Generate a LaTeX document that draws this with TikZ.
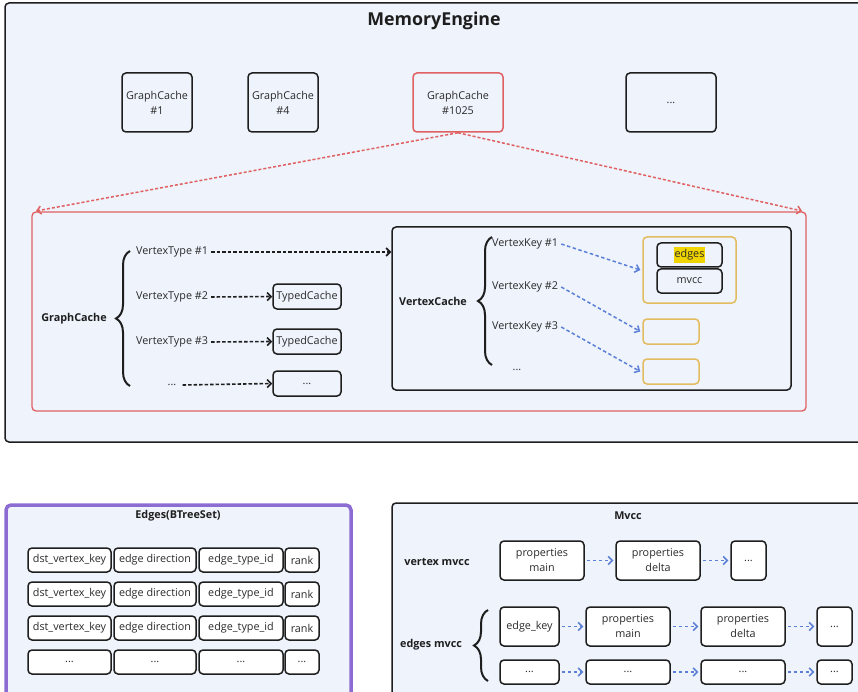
\documentclass[tikz,border=0pt]{standalone}
\usepackage{fontspec}
\setmainfont{Open Sans}
\usetikzlibrary{arrows.meta,decorations.pathreplacing,calc}
\definecolor{bg}{HTML}{EEF3FC}
\definecolor{ink}{HTML}{1E1E1E}
\definecolor{txt}{HTML}{2A2A2A}
\definecolor{redc}{HTML}{E06161}
\definecolor{yel}{HTML}{E2BC5E}
\definecolor{purp}{HTML}{8C6CD2}
\definecolor{bluea}{HTML}{5B80D6}
\definecolor{hl}{HTML}{F0D400}
\begin{document}
\begin{tikzpicture}[x=1pt,y=-1pt,
  every node/.style={text=txt,font=\fontsize{10.8}{15}\selectfont,inner sep=0pt},
  box/.style={draw=ink,line width=1.5pt,rounded corners=4pt,align=center},
  wbox/.style={box,fill=white},
  ybox/.style={draw=yel,line width=1.5pt,rounded corners=4pt},
  lbl/.style={font=\fontsize{10.8}{12}\selectfont\bfseries,text=ink},
  blkarrow/.style={draw=ink,line width=1.6pt,dash pattern=on 3.5pt off 2pt,-{Straight Barb[length=4pt,width=8pt]}},
  bluearrow/.style={draw=bluea,line width=1.5pt,dash pattern=on 3.5pt off 2.5pt,-{Straight Barb[length=4pt,width=8pt]}},
  redarrow/.style={draw=redc,line width=1.5pt,dash pattern=on 3pt off 2pt,-{Straight Barb[length=4pt,width=8pt]}},
  bracestyle/.style={draw=ink,line width=2pt,decorate,decoration={brace,amplitude=14pt}}
]
\useasboundingbox (0,0) rectangle (858,692);
\begin{scope}
\clip (0,0) rectangle (858,692);
\fill[white] (0,0) rectangle (858,692);
% Memory engine frame
\draw[draw=ink,line width=1.5pt,fill=bg,rounded corners=4pt] (5,3) rectangle (875,442);
\node[font=\fontsize{17.8}{20}\selectfont\bfseries,text=ink] (title) at (434,21) {MemoryEngine};
\node[box,minimum width=70pt,minimum height=59pt] (gc1) at (157,102.5) {GraphCache\\\#1};
\node[box,minimum width=70pt,minimum height=59pt] (gc4) at (283,102.5) {GraphCache\\\#4};
\node[box,draw=redc,minimum width=90pt,minimum height=59pt] (gc1025) at (458,102.5) {GraphCache\\\#1025};
\node[box,minimum width=90pt,minimum height=59pt] (gcdots) at (671,102.5) {...};
% red frame
\draw[draw=redc,line width=1.3pt,rounded corners=4pt] (32,212) rectangle (806,411);
\coordinate (rl) at (36,211);
\coordinate (rr) at (802,211);
\draw[redarrow] (gc1025.south) -- (rl);
\draw[redarrow] (gc1025.south) -- (rr);
% GraphCache contents
\node[lbl] (gclbl) at (74,319) {GraphCache};
\draw[bracestyle] (130,386) -- (130,251);
\node[anchor=west] (vt1) at (136,252) {VertexType \#1};
\node[anchor=west] (vt2) at (136,297) {VertexType \#2};
\node[anchor=west] (vt3) at (136,342) {VertexType \#3};
\node (vtd) at (172,385) {...};
\node[box,minimum width=68pt,minimum height=25pt] (tc2) at (307,296.5) {TypedCache};
\node[box,minimum width=68pt,minimum height=25pt] (tc3) at (307,341.5) {TypedCache};
\node[box,minimum width=68pt,minimum height=25pt] (tcd) at (307,383.5) {...};
% VertexCache
\node[box,minimum width=399pt,minimum height=163pt] (vc) at (591.5,308.5) {};
\draw[blkarrow] ([xshift=3pt]vt1.east) -- (vt1 -| vc.west);
\draw[blkarrow] ([xshift=3pt]vt2.east) -- (tc2.west);
\draw[blkarrow] ([xshift=3pt]vt3.east) -- (tc3.west);
\draw[blkarrow] ([xshift=6pt]vtd.east) -- (tcd.west);
\node[lbl] (vclbl) at (433,301) {VertexCache};
\draw[bracestyle] (492,365) -- (492,237);
\node[anchor=west] (vk1) at (492,244) {VertexKey \#1};
\node[anchor=west] (vk2) at (492,287) {VertexKey \#2};
\node[anchor=west] (vk3) at (492,327) {VertexKey \#3};
\node (vkd) at (517,370) {...};
\node[ybox,minimum width=93pt,minimum height=66pt] (yb1) at (689.5,270) {};
\node[ybox,minimum width=56pt,minimum height=25pt] (yb2) at (671,331.5) {};
\node[ybox,minimum width=56pt,minimum height=25pt] (yb3) at (671,371.5) {};
\node[box,minimum width=65pt,minimum height=24pt] (edg) at (689.5,255) {\colorbox{hl}{\kern-2.5pt edges\kern-2.5pt}};
\node[box,minimum width=65pt,minimum height=24pt] (mv) at (689.5,281) {mvcc};
\draw[bluearrow] ([xshift=3pt]vk1.east) -- ([xshift=-2pt]yb1.west);
\draw[bluearrow] ([xshift=3pt]vk2.east) -- ([xshift=-2pt]yb2.west);
\draw[bluearrow] ([xshift=3pt]vk3.east) -- ([xshift=-2pt]yb3.west);
% Edges(BTreeSet)
\draw[draw=purp,line width=3.5pt,fill=bg,rounded corners=5pt] (6,505) rectangle (351,720);
\node[lbl] (etitle) at (178,516) {Edges(BTreeSet)};
\foreach \r/\y in {1/560,2/594,3/628}{
  \node[wbox,minimum width=83pt,minimum height=24pt] (e\r a) at (69.5,\y) {dst\_vertex\_key};
  \node[wbox,minimum width=82pt,minimum height=24pt] (e\r b) at (155,\y) {edge direction};
  \node[wbox,minimum width=84pt,minimum height=24pt] (e\r c) at (241,\y) {edge\_type\_id};
  \node[wbox,minimum width=34pt,minimum height=24pt] (e\r d) at (302,\y) {rank};
}
\node[wbox,minimum width=83pt,minimum height=24pt] (e4a) at (69.5,662) {...};
\node[wbox,minimum width=82pt,minimum height=24pt] (e4b) at (155,662) {...};
\node[wbox,minimum width=84pt,minimum height=24pt] (e4c) at (241,662) {...};
\node[wbox,minimum width=34pt,minimum height=24pt] (e4d) at (302,662) {...};
% Mvcc
\draw[draw=ink,line width=1.5pt,fill=bg,rounded corners=4pt] (392,503) rectangle (880,720);
\node[lbl] (mtitle) at (628,516) {Mvcc};
\node[lbl] (vmv) at (437,562) {vertex mvcc};
\node[wbox,minimum width=84pt,minimum height=39pt] (pm1) at (542,560.5) {properties\\main};
\node[wbox,minimum width=84pt,minimum height=39pt] (pd1) at (658,560.5) {properties\\delta};
\node[wbox,minimum width=35pt,minimum height=39pt] (pdots1) at (748.5,560.5) {...};
\draw[bluearrow] ([xshift=2pt]pm1.east) -- ([xshift=-2pt]pd1.west);
\draw[bluearrow] ([xshift=2pt]pd1.east) -- ([xshift=-2pt]pdots1.west);
\node[lbl] (emv) at (431,645) {edges mvcc};
\draw[bracestyle] (488,681) -- (488,610);
\node[wbox,minimum width=59pt,minimum height=39pt] (ek) at (529.5,626.5) {edge\_key};
\node[wbox,minimum width=84pt,minimum height=39pt] (pm2) at (628,626.5) {properties\\main};
\node[wbox,minimum width=84pt,minimum height=39pt] (pd2) at (743,626.5) {properties\\delta};
\node[wbox,minimum width=35pt,minimum height=39pt] (pdots2) at (834.5,626.5) {...};
\node[wbox,minimum width=59pt,minimum height=24pt] (ekd) at (529.5,672) {...};
\node[wbox,minimum width=84pt,minimum height=24pt] (pm3) at (628,672) {...};
\node[wbox,minimum width=84pt,minimum height=24pt] (pd3) at (743,672) {...};
\node[wbox,minimum width=35pt,minimum height=24pt] (pdots3) at (834.5,672) {...};
\draw[bluearrow] ([xshift=2pt]ek.east) -- ([xshift=-2pt]pm2.west);
\draw[bluearrow] ([xshift=2pt]pm2.east) -- ([xshift=-2pt]pd2.west);
\draw[bluearrow] ([xshift=2pt]pd2.east) -- ([xshift=-2pt]pdots2.west);
\draw[bluearrow] ([xshift=2pt]ekd.east) -- ([xshift=-2pt]pm3.west);
\draw[bluearrow] ([xshift=2pt]pm3.east) -- ([xshift=-2pt]pd3.west);
\draw[bluearrow] ([xshift=2pt]pd3.east) -- ([xshift=-2pt]pdots3.west);
\end{scope}
\end{tikzpicture}
\end{document}
